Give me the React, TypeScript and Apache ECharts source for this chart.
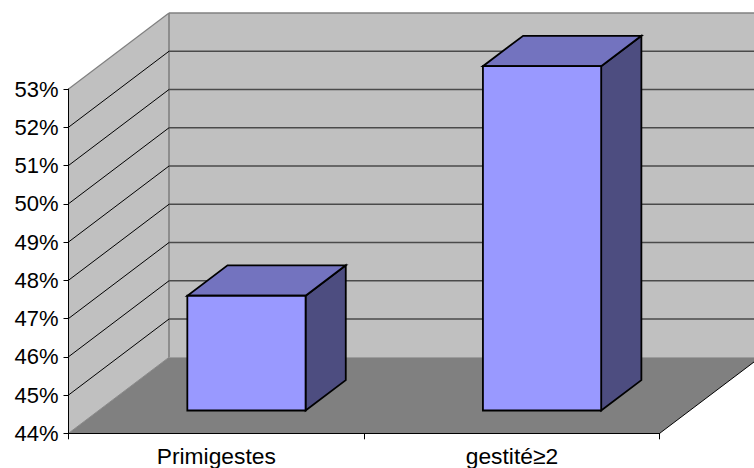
import React, { useEffect, useRef } from "react";
import * as echarts from "echarts";

const categories = ["Primigestes", "gestité≥2"];
const percentages = [47, 53];
const yMin = 44;
const yMax = 53;

const DEPTH_X = 100.5;
const DEPTH_Y = 76;
const BAR_WIDTH_RATIO = 0.4;
const BAR_DEPTH_RATIO = 0.4;
const BAR_GAP_RATIO = 0.3;

const poly = (points: number[][], fill: string, stroke: string, lineWidth: number) => ({
  type: "polygon",
  shape: { points },
  style: { fill, stroke, lineWidth, lineJoin: "miter" },
});
const seg = (x1: number, y1: number, x2: number, y2: number, stroke: string, lineWidth: number) => ({
  type: "line",
  shape: { x1, y1, x2, y2 },
  style: { stroke, lineWidth, fill: "none" },
});

export default function App() {
  const ref = useRef<HTMLDivElement>(null);
  useEffect(() => {
    document.body.style.margin = "0";
    const chart = echarts.init(ref.current!, undefined, { renderer: "svg" });
    const ticks: number[] = [];
    for (let v = yMin; v <= yMax; v++) ticks.push(v);

    chart.setOption({
      animation: false,
      backgroundColor: "#ffffff",
      grid: { left: 68.5, top: 89, width: 591.2, height: 344.3, outerBoundsMode: "none" },
      xAxis: {
        type: "category",
        data: categories,
        z: 6,
        axisLine: { lineStyle: { color: "#000", width: 1 } },
        axisTick: { show: true, alignWithLabel: false, length: 6, lineStyle: { color: "#000", width: 1 } },
        axisLabel: { color: "#000", fontFamily: "Liberation Sans", fontSize: 22.8, margin: 11 },
        splitLine: { show: false },
      },
      yAxis: {
        type: "value",
        min: yMin,
        max: yMax,
        interval: 1,
        z: 6,
        axisLine: { show: true, lineStyle: { color: "#000", width: 1 } },
        axisTick: { show: true, length: 5, lineStyle: { color: "#000", width: 1 } },
        axisLabel: { color: "#000", fontFamily: "Liberation Sans", fontSize: 22, margin: 10, formatter: "{value}%" },
        splitLine: { show: false },
      },
      series: [
        {
          type: "custom",
          name: "walls",
          coordinateSystem: "cartesian2d",
          silent: true,
          z: 1,
          data: [[0, yMin]],
          renderItem: (params: any) => {
            const { x, y, width, height } = params.coordSys;
            const b = y + height;
            return {
              type: "group",
              children: [
                poly([[x + DEPTH_X, y - DEPTH_Y], [x + width + DEPTH_X, y - DEPTH_Y], [x + width + DEPTH_X, b - DEPTH_Y], [x + DEPTH_X, b - DEPTH_Y]], "#c0c0c0", "none", 0),
                poly([[x, y], [x + DEPTH_X, y - DEPTH_Y], [x + DEPTH_X, b - DEPTH_Y], [x, b]], "#c0c0c0", "none", 0),
                poly([[x, b], [x + width, b], [x + width + DEPTH_X, b - DEPTH_Y], [x + DEPTH_X, b - DEPTH_Y]], "#808080", "none", 0),
                seg(x + DEPTH_X, y - DEPTH_Y, x + width + DEPTH_X, y - DEPTH_Y, "#808080", 1.6),
                seg(x + DEPTH_X, y - DEPTH_Y, x + DEPTH_X, b - DEPTH_Y, "#808080", 1.6),
                seg(x, y, x + DEPTH_X, y - DEPTH_Y, "#808080", 1.2),
                seg(x, b, x + DEPTH_X, b - DEPTH_Y, "#8a8a8a", 1),
                seg(x + width, b, x + width + DEPTH_X, b - DEPTH_Y, "#000", 1),
              ],
            };
          },
        },
        {
          type: "custom",
          name: "gridlines",
          coordinateSystem: "cartesian2d",
          silent: true,
          z: 2,
          data: ticks.slice(1, -1).map((v) => [0, v]),
          renderItem: (params: any, api: any) => {
            const { x, width } = params.coordSys;
            const py = api.coord([0, api.value(1)])[1];
            return {
              type: "group",
              children: [
                seg(x, py, x + DEPTH_X, py - DEPTH_Y, "#000", 1),
                seg(x + DEPTH_X, py - DEPTH_Y, x + width + DEPTH_X, py - DEPTH_Y, "#4a4a4a", 1.4),
              ],
            };
          },
        },
        {
          type: "custom",
          name: "bars",
          coordinateSystem: "cartesian2d",
          z: 4,
          data: percentages.map((v, i) => [i, v]),
          renderItem: (_params: any, api: any) => {
            const top = api.coord([api.value(0), api.value(1)]);
            const base = api.coord([api.value(0), yMin]);
            const band = api.size([1, 0])[0];
            const w = band * BAR_WIDTH_RATIO;
            const ox = DEPTH_X * BAR_GAP_RATIO;
            const oy = DEPTH_Y * BAR_GAP_RATIO;
            const dx = DEPTH_X * BAR_DEPTH_RATIO;
            const dy = DEPTH_Y * BAR_DEPTH_RATIO;
            const l = top[0] - w / 2 + ox;
            const r = l + w;
            const t = top[1] - oy;
            const b = base[1] - oy;
            return {
              type: "group",
              children: [
                poly([[r, b], [r + dx, b - dy], [r + dx, t - dy], [r, t]], "#4d4d80", "#000", 1.8),
                poly([[l, t], [r, t], [r + dx, t - dy], [l + dx, t - dy]], "#7373bf", "#000", 1.8),
                poly([[l, t], [r, t], [r, b], [l, b]], "#9999ff", "#000", 1.8),
              ],
            };
          },
        },
      ],
    });
    return () => chart.dispose();
  }, []);
  return <div ref={ref} style={{ position: "fixed", left: 0, top: 0, width: 754, height: 468 }} />;
}
